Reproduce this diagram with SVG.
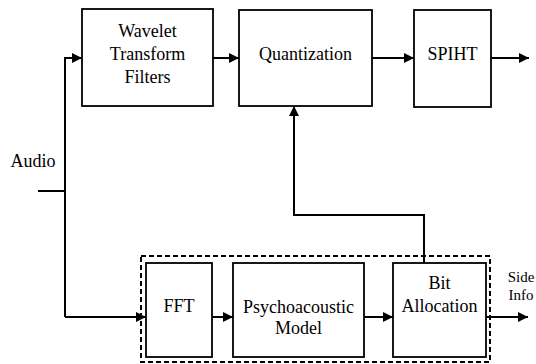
<svg xmlns="http://www.w3.org/2000/svg" width="536" height="364" viewBox="0 0 536 364">
<style>
.box{fill:#fff;stroke:#000;stroke-width:1.8}
.t{font-family:"Liberation Serif","Times New Roman",serif;font-size:18px;fill:#000;text-anchor:middle}
.s{font-family:"Liberation Serif","Times New Roman",serif;font-size:15px;fill:#000;text-anchor:middle}
.c{fill:none;stroke:#000;stroke-width:2}
.dash{fill:none;stroke:#000;stroke-width:2;stroke-dasharray:5 3}
</style>
<defs>
<marker id="ah" viewBox="0 0 10 10" refX="10" refY="5" markerWidth="5" markerHeight="5" orient="auto" markerUnits="strokeWidth">
<path d="M0,0 L10,5 L0,10 Z" fill="#000"/>
</marker>
</defs>
<rect width="536" height="364" fill="#fff"/>
<g id="dashed-group"><rect class="dash" x="141" y="256" width="349" height="106"/></g>
<g id="wavelet"><rect class="box" x="82" y="9" width="131" height="97"/>
<text class="t" x="147.5" y="37">Wavelet</text><text class="t" x="147.5" y="60">Transform</text><text class="t" x="147.5" y="83">Filters</text></g>
<g id="quantization"><rect class="box" x="239" y="10" width="133" height="96"/>
<text class="t" x="305.5" y="60">Quantization</text></g>
<g id="spiht"><rect class="box" x="414" y="10" width="77" height="97"/>
<text class="t" x="452.5" y="60">SPIHT</text></g>
<g id="fft"><rect class="box" x="146" y="263" width="66" height="94"/>
<text class="t" x="179" y="312">FFT</text></g>
<g id="psycho"><rect class="box" x="233" y="263" width="131" height="94"/>
<text class="t" x="298.5" y="313">Psychoacoustic</text><text class="t" x="298.5" y="334">Model</text></g>
<g id="bitalloc"><rect class="box" x="393" y="263" width="93" height="94"/>
<text class="t" x="439.5" y="289">Bit</text><text class="t" x="439.5" y="312">Allocation</text></g>
<g id="labels">
<text class="t" x="33" y="167">Audio</text>
<text class="s" x="521" y="282">Side</text><text class="s" x="521" y="300">Info</text>
</g>
<g id="connectors">
<path class="c" d="M38,191 H65"/>
<path class="c" d="M65,317 V58 H82" marker-end="url(#ah)"/>
<path class="c" d="M65,317 H146" marker-end="url(#ah)"/>
<path class="c" d="M213,58 H239" marker-end="url(#ah)"/>
<path class="c" d="M372,58 H414" marker-end="url(#ah)"/>
<path class="c" d="M491,58 H529" marker-end="url(#ah)"/>
<path class="c" d="M212,317 H233" marker-end="url(#ah)"/>
<path class="c" d="M364,317 H393" marker-end="url(#ah)"/>
<path class="c" d="M486,317 H528" marker-end="url(#ah)"/>
<path class="c" d="M424,263 V215 H294 V106" marker-end="url(#ah)"/>
</g>
</svg>
